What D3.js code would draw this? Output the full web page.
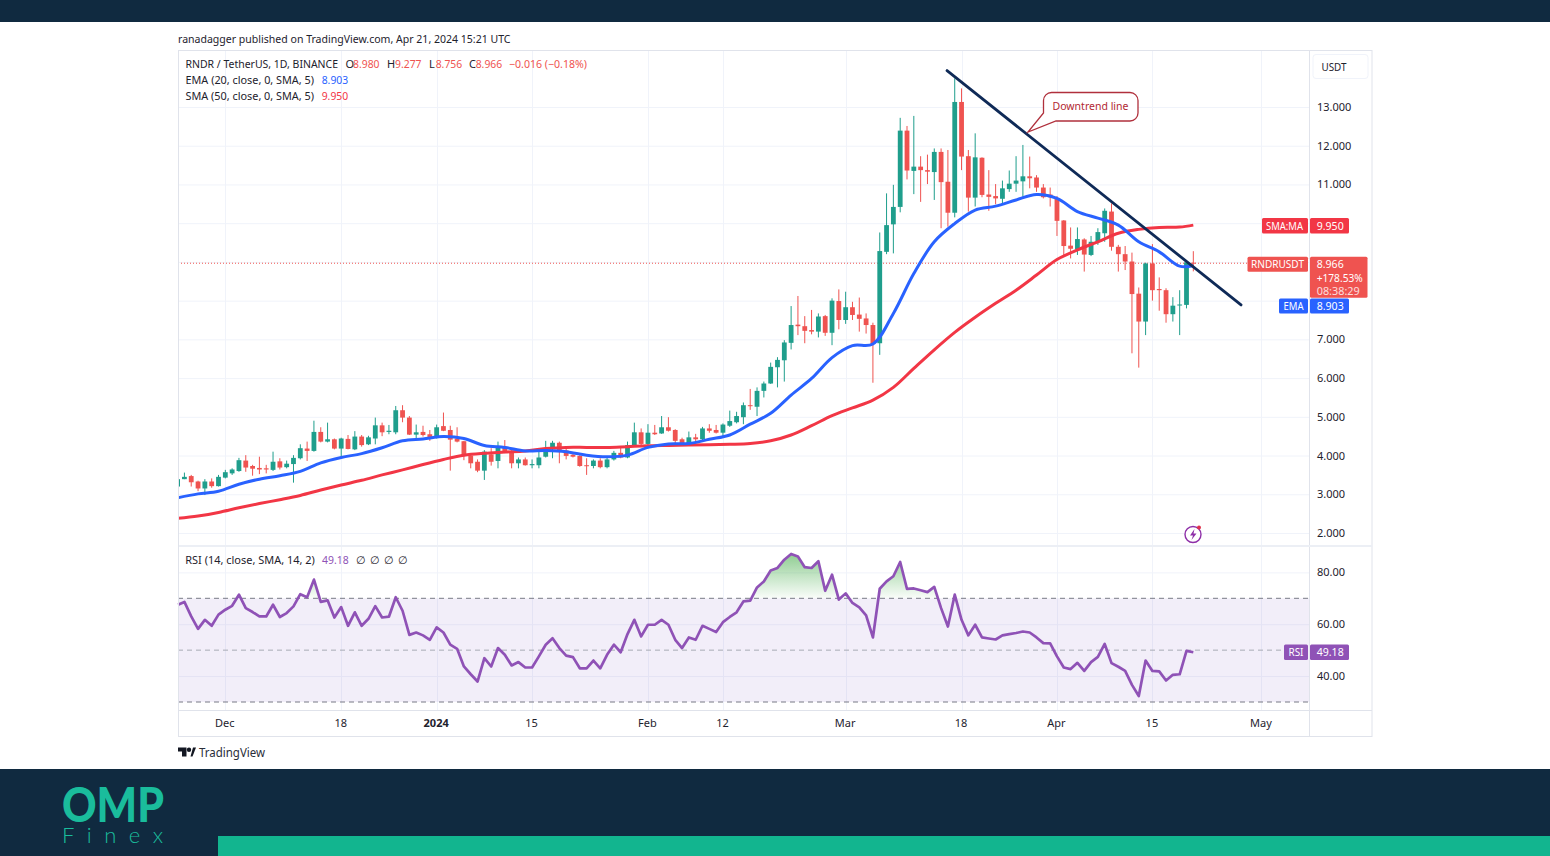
<!DOCTYPE html>
<html><head><meta charset="utf-8">
<script src="https://cdn.jsdelivr.net/npm/d3@7"></script>
<style>html,body{margin:0;padding:0;background:#fff;overflow:hidden}svg{display:block}text{font-family:"Noto Sans",sans-serif}</style>
</head><body><div id="c"></div>
<script>
// Daily candles, 24 Nov 2023 to 21 Apr 2024 (Nov | Dec | Jan | Feb | Mar | Apr)
const opens=[3.20,3.39,3.47,3.33,3.15,3.33,3.21,
3.43,3.54,3.60,3.87,3.73,3.68,3.67,3.63,3.85,3.70,3.78,3.93,4.18,4.12,4.61,4.36,4.42,4.18,4.43,4.16,4.49,4.29,4.44,4.78,4.61,4.60,5.17,4.98,4.54,4.61,4.55,
4.45,4.76,4.66,4.44,4.37,4.00,3.84,3.61,4.03,3.86,4.23,4.10,3.80,3.90,3.75,3.75,3.97,4.18,4.33,4.13,4.02,3.99,3.75,3.73,3.87,3.70,3.90,4.07,3.95,4.27,4.60,
4.30,4.59,4.57,4.73,4.66,4.42,4.25,4.47,4.42,4.70,4.66,4.59,4.77,4.86,4.99,5.30,5.26,5.67,5.86,6.28,6.46,6.91,7.38,7.34,7.24,7.20,7.60,7.17,7.99,
7.50,7.83,7.64,7.54,7.37,6.90,9.26,9.97,10.42,12.39,11.35,11.46,11.37,11.32,11.84,11.07,10.27,13.13,11.73,10.66,11.69,10.74,10.70,10.63,10.88,11.02,11.08,11.21,11.18,10.92,10.74,
10.64,10.07,9.42,9.32,9.58,9.18,9.52,9.74,10.30,9.39,9.20,9.01,8.18,7.46,8.96,8.30,8.27,7.65,7.88,7.89,8.98];
const highs=[3.45,3.56,3.50,3.35,3.39,3.41,3.50,
3.63,3.67,3.94,4.01,3.76,3.97,3.76,4.10,3.93,3.87,4.01,4.29,4.36,4.90,4.73,4.85,4.44,4.46,4.53,4.63,4.53,4.51,4.98,4.85,4.79,5.28,5.30,5.02,4.80,4.77,4.66,
4.80,5.11,4.77,4.73,4.38,4.06,3.90,4.14,4.19,4.36,4.40,4.14,3.95,3.95,3.90,4.14,4.38,4.38,4.36,4.19,4.06,4.01,3.93,3.90,3.93,3.97,4.12,4.23,4.36,4.85,4.70,
4.81,4.79,5.02,4.99,4.68,4.46,4.62,4.56,4.74,4.81,4.79,4.83,5.16,5.13,5.37,5.72,5.76,5.91,6.40,6.54,6.98,7.86,8.12,7.60,7.76,7.67,7.63,8.06,8.29,
8.23,7.97,8.08,7.67,7.43,9.76,10.77,10.99,12.72,12.51,12.77,11.73,11.77,11.93,11.93,11.89,13.74,13.48,11.89,12.32,11.70,11.37,11.01,11.10,11.36,11.73,12.02,11.72,11.24,11.01,10.92,
10.70,10.08,9.89,9.89,9.61,9.67,9.87,10.38,10.51,9.44,9.41,9.24,8.34,8.98,9.46,8.60,8.32,8.09,8.27,9.05,9.277];
const lows=[3.20,3.39,3.20,3.08,2.98,3.17,3.20,
3.41,3.50,3.58,3.58,3.48,3.52,3.54,3.60,3.64,3.67,3.30,3.90,3.86,4.10,4.34,4.34,4.16,3.97,4.16,4.14,4.23,4.27,4.29,4.50,4.55,4.55,4.86,4.53,4.42,4.49,4.38,
4.44,4.63,3.61,4.34,3.88,3.67,3.57,3.37,3.74,3.67,4.06,3.67,3.67,3.74,3.67,3.67,3.95,3.93,3.80,3.90,3.95,3.71,3.50,3.67,3.67,3.67,3.87,3.93,3.93,4.25,4.27,
4.27,4.53,4.56,4.62,4.27,4.25,4.25,4.31,4.40,4.59,4.57,4.49,4.74,4.83,4.81,5.18,5.02,5.50,5.85,5.76,5.91,6.74,7.11,6.90,7.13,7.05,7.09,6.85,7.26,
7.40,7.50,7.20,7.15,5.88,6.60,9.20,9.22,10.28,11.13,10.75,10.55,11.01,10.60,9.87,9.91,10.15,11.37,10.30,10.43,10.67,10.32,10.49,10.51,10.81,10.81,10.68,10.90,10.81,10.64,10.43,
9.67,9.15,9.09,9.18,8.75,9.15,9.44,9.52,9.29,8.75,8.79,6.64,6.27,7.11,8.00,7.74,7.43,7.46,7.11,7.80,8.756];
const closes=[3.39,3.45,3.31,3.15,3.33,3.21,3.45,
3.57,3.64,3.88,3.69,3.66,3.64,3.64,3.84,3.69,3.79,3.94,4.19,4.12,4.61,4.36,4.42,4.18,4.44,4.17,4.49,4.27,4.47,4.78,4.60,4.64,5.17,4.98,4.54,4.60,4.53,4.45,
4.73,4.64,4.41,4.36,4.01,3.80,3.61,4.10,3.84,4.25,4.07,3.80,3.90,3.75,3.78,3.95,4.19,4.33,4.14,3.99,3.97,3.73,3.73,3.87,3.70,3.90,4.07,3.95,4.27,4.60,4.30,
4.59,4.55,4.73,4.64,4.38,4.27,4.47,4.42,4.70,4.64,4.59,4.80,4.89,5.02,5.30,5.28,5.67,5.86,6.29,6.47,6.92,7.37,7.34,7.22,7.20,7.59,7.17,8.00,7.50,
7.83,7.63,7.53,7.37,6.88,9.28,9.95,10.42,12.39,11.36,11.46,11.37,11.33,11.84,11.06,10.27,13.13,11.72,10.66,11.70,10.73,10.68,10.64,10.90,11.02,11.10,11.21,11.16,10.92,10.67,10.67,
10.06,9.41,9.34,9.59,9.19,9.52,9.77,10.32,9.39,9.20,9.01,8.17,7.46,8.96,8.27,8.27,7.65,7.87,7.90,8.99,8.966];
// Moving averages every third session, plus the last one
const maSessions=[0,3,6,9,12,15,18,21,24,27,30,33,36,39,42,45,48,51,54,57,60,63,66,69,72,75,78,81,84,87,90,93,96,99,102,105,108,111,114,117,120,123,126,129,132,135,138,141,144,147,149];
const ema20=[2.91,3.01,3.08,3.26,3.39,3.48,3.59,3.81,3.95,4.05,4.20,4.38,4.43,4.49,4.44,4.26,4.21,4.12,4.13,4.10,4.01,3.97,4.01,4.21,4.30,4.31,4.42,4.53,4.81,5.09,5.56,5.99,6.53,6.84,6.88,7.67,8.70,9.52,9.99,10.34,10.44,10.60,10.74,10.64,10.30,10.13,9.95,9.52,9.26,8.89,8.903];
const sma50=[2.38,2.44,2.53,2.65,2.76,2.86,2.97,3.11,3.24,3.36,3.50,3.63,3.77,3.90,4.01,4.06,4.09,4.12,4.18,4.21,4.21,4.21,4.23,4.25,4.26,4.27,4.28,4.29,4.31,4.38,4.53,4.77,5.03,5.23,5.43,5.76,6.25,6.73,7.18,7.57,7.93,8.27,8.66,9.06,9.31,9.52,9.74,9.84,9.89,9.90,9.95];
const rsi14=[67.5,68.6,63.0,58.2,61.7,59.4,63.7,65.6,67.1,71.4,66.2,64.7,63.0,63.0,67.5,62.8,64.3,66.9,71.6,70.4,77.2,68.6,69.2,62.6,66.6,59.4,64.6,59.4,62.1,67.0,62.6,62.9,70.4,65.2,55.9,56.8,55.7,54.0,58.8,56.8,52.1,50.5,43.7,40.7,37.9,46.9,43.7,50.8,48.2,44.1,45.4,43.3,43.3,47.6,52.1,54.6,50.8,47.9,47.3,43.0,43.0,46.0,43.0,48.2,52.1,49.2,56.2,61.7,55.3,59.8,59.8,61.7,59.8,54.0,50.8,54.9,54.0,
59.4,58.2,57.0,60.8,62.8,64.6,68.8,69.1,74.2,76.5,80.7,81.7,84.9,87.1,86.1,82.0,81.7,84.3,72.9,79.1,69.5,71.9,68.2,66.5,63.4,54.9,73.7,76.5,78.5,84.0,73.6,73.8,73.1,72.4,74.4,66.2,59.1,71.4,61.7,55.7,59.8,54.9,54.5,54.1,55.7,56.2,56.6,57.2,56.8,54.9,52.7,52.6,47.6,43.3,42.7,45.1,42.0,45.4,47.4,52.4,45.0,43.6,42.0,36.6,32.3,46.0,42.0,41.8,38.3,40.5,40.7,49.7,49.18];
const firstSession="2023-11-24";
const priceTicks=[2,3,4,5,6,7,8,9,10,11,12,13];
const priceTickLabels=[2,3,4,5,6,7,11,12,13];
const rsiTicks=[80,60,40];
const rsiBands=[70,50,30];
const dateTicks=["2023-12-01","2023-12-18","2024-01-01","2024-01-15","2024-02-01","2024-02-12","2024-03-01","2024-03-18","2024-04-01","2024-04-15","2024-05-01"];
const dateLabels=["Dec","18","2024","15","Feb","12","Mar","18","Apr","15","May"];
const trendDates=["2024-03-15T21:00Z","2024-04-28T00:00Z"];
const trendPrices=[13.94,7.89];
const lastPrice=8.966, lastEma=8.903, lastSma=9.950, lastRsi=49.18;

const W=1550,H=856,L=178,PR=1309,R=1372,T=50,PB=545,RT=547,RB=710,B=737;
const GREEN="#1f9e8c",RED="#ef5350",BLUE="#2962ff",SMAC="#f23645",PURP="#8f52b6",GRID="#f0f3fa",BORDER="#e0e3eb",TXT="#1e222d",NAVY="#102a40",TEAL="#12b58f";
const parse=s=>new Date(s.length===10?s+"T00:00Z":s);
const start=parse(firstSession);
const dates=opens.map((_,i)=>d3.utcDay.offset(start,i));
const x=d3.scaleUtc().domain([start,parse("2024-05-08")]).range([177.6,1309.2]);
const y=d3.scaleLinear().domain([2,13]).range([533,107]);
const yr=d3.scaleLinear().domain([30,70]).range([702,598.3]);

const svg=d3.select("#c").append("svg").attr("width",W).attr("height",H);
const defs=svg.append("defs");
defs.append("clipPath").attr("id","main").append("rect").attr("x",L).attr("y",T).attr("width",PR-L).attr("height",PB-T);
defs.append("clipPath").attr("id","over").append("rect").attr("x",L).attr("y",RT).attr("width",PR-L).attr("height",yr(70)-RT);
const gr=defs.append("linearGradient").attr("id","ob").attr("x1",0).attr("x2",0)
 .attr("gradientUnits","userSpaceOnUse").attr("y1",yr(87)).attr("y2",yr(70));
gr.append("stop").attr("offset",0).attr("stop-color","#4caf50").attr("stop-opacity",.62);
gr.append("stop").attr("offset",1).attr("stop-color","#4caf50").attr("stop-opacity",.03);

function txt(g,xx,yy,s,o={}){
 const t=g.append("text").attr("x",xx).attr("y",yy).text(s).attr("font-size",o.size||11).attr("fill",o.fill||TXT)
  .attr("text-anchor",o.anchor||"start");
 if(o.weight)t.attr("font-weight",o.weight);
 if(o.len)t.attr("textLength",o.len).attr("lengthAdjust",o.adj||"spacingAndGlyphs");
 if(o.op)t.attr("opacity",o.op);
 if(o.family)t.style("font-family",o.family);
 return t;
}
// page furniture
svg.append("rect").attr("width",W).attr("height",22).attr("fill",NAVY);
svg.append("rect").attr("y",769).attr("width",W).attr("height",87).attr("fill",NAVY);
svg.append("rect").attr("x",218).attr("y",836).attr("width",W-218).attr("height",20).attr("fill",TEAL);
txt(svg,62,822,"OMP",{size:48,weight:900,fill:"#1abc9c",len:102,family:"Lato"});
txt(svg,62,843,"Finex",{size:22,weight:300,fill:"#1abc9c",len:101,adj:"spacing",family:"Lato"});

// grid
const grid=svg.append("g");
grid.selectAll(".h").data(priceTicks).join("line").attr("x1",L).attr("x2",PR).attr("y1",d=>y(d)+.5).attr("y2",d=>y(d)+.5).attr("stroke",GRID);
grid.selectAll(".r").data(rsiTicks).join("line").attr("x1",L).attr("x2",PR).attr("y1",d=>yr(d)+.5).attr("y2",d=>yr(d)+.5).attr("stroke",GRID);
grid.selectAll(".v").data(dateTicks).join("line").attr("x1",d=>Math.round(x(parse(d)))+.5).attr("x2",d=>Math.round(x(parse(d)))+.5).attr("y1",T).attr("y2",RB).attr("stroke",GRID);

// RSI pane
svg.append("rect").attr("x",L).attr("y",yr(70)).attr("width",PR-L).attr("height",yr(30)-yr(70)).attr("fill","#7e57c2").attr("opacity",.1);
svg.append("g").selectAll("line").data(rsiBands).join("line").attr("x1",L).attr("x2",PR).attr("y1",d=>yr(d)).attr("y2",d=>yr(d))
 .attr("stroke",d=>d===50?"#a9abb4":"#787b86").attr("stroke-dasharray","5 4");
const rsiData=rsi14.map((v,i)=>[dates[i],v]);
svg.append("path").attr("clip-path","url(#over)").attr("fill","url(#ob)")
 .attr("d",d3.area().x(d=>x(d[0])).y0(yr(70)).y1(d=>yr(d[1]))(rsiData));
svg.append("path").attr("fill","none").attr("stroke",PURP).attr("stroke-width",2.7).attr("stroke-linejoin","round")
 .attr("d",d3.line().x(d=>Math.max(L,x(d[0]))).y(d=>yr(d[1]))(rsiData));

// last price dotted line
svg.append("line").attr("x1",L).attr("x2",PR).attr("y1",y(lastPrice)).attr("y2",y(lastPrice)).attr("stroke",RED).attr("stroke-dasharray","1 2");

// candles
const main=svg.append("g").attr("clip-path","url(#main)");
const cs=main.selectAll("g.c").data(dates).join("g").attr("class","c");
const col=i=>closes[i]>=opens[i]?GREEN:RED;
cs.append("line").attr("x1",d=>x(d)).attr("x2",d=>x(d)).attr("y1",(d,i)=>y(highs[i])).attr("y2",(d,i)=>y(lows[i])).attr("stroke",(d,i)=>col(i)).attr("stroke-width",1);
cs.append("rect").attr("x",d=>x(d)-2.4).attr("width",4.8).attr("y",(d,i)=>y(Math.max(opens[i],closes[i])))
 .attr("height",(d,i)=>Math.max(1,Math.abs(y(opens[i])-y(closes[i])))).attr("fill",(d,i)=>col(i));

// moving averages
const maLine=d3.line().x(d=>x(d[0])).y(d=>y(d[1])).curve(d3.curveCatmullRom);
const maPts=a=>a.map((v,i)=>[dates[maSessions[i]],v]);
main.append("path").attr("fill","none").attr("stroke",SMAC).attr("stroke-width",3).attr("d",maLine(maPts(sma50)));
main.append("path").attr("fill","none").attr("stroke",BLUE).attr("stroke-width",3).attr("d",maLine(maPts(ema20)));

// trend line and callout
svg.append("line").attr("x1",x(parse(trendDates[0]))).attr("x2",x(parse(trendDates[1]))).attr("y1",y(trendPrices[0])).attr("y2",y(trendPrices[1]))
 .attr("stroke","#0f2a57").attr("stroke-width",2.8).attr("stroke-linecap","round");
svg.append("path").attr("fill","#fff").attr("stroke","#b0303c").attr("stroke-width",1.3)
 .attr("d","M1051.5,92.5H1130a8,8 0 0 1 8,8V113a8,8 0 0 1 -8,8H1056L1028,132L1043.5,113V100.5a8,8 0 0 1 8,-8Z");
txt(svg,1090.5,109.5,"Downtrend line",{fill:"#b22833",anchor:"middle",len:76});

// lightning badge
const bolt=svg.append("g");
bolt.append("circle").attr("cx",1193).attr("cy",534.5).attr("r",8).attr("fill","#fff").attr("stroke","#8e2fa8").attr("stroke-width",1.4);
bolt.append("path").attr("d","M1194.5,529L1190,535.5H1193L1191.5,540L1196.5,533.5H1193.5Z").attr("fill","#8e2fa8");
bolt.append("circle").attr("cx",1199).attr("cy",527.5).attr("r",2).attr("fill","#e0314b");

// frame
const fr=svg.append("g").attr("fill","none").attr("stroke",BORDER);
fr.append("rect").attr("x",L+.5).attr("y",T+.5).attr("width",R-L-.5).attr("height",B-T-1);
fr.append("line").attr("x1",PR+.5).attr("x2",PR+.5).attr("y1",T).attr("y2",B);
fr.append("line").attr("x1",L).attr("x2",R).attr("y1",RB+.5).attr("y2",RB+.5);
svg.append("rect").attr("x",L+1).attr("y",PB).attr("width",R-L-1).attr("height",2).attr("fill","#eceff5");

// axes
const axP=svg.append("g").attr("transform",`translate(${PR},0)`).call(d3.axisRight(y).tickValues(priceTickLabels).tickSize(0).tickPadding(8).tickFormat(d3.format(".3f")));
const axR=svg.append("g").attr("transform",`translate(${PR},0)`).call(d3.axisRight(yr).tickValues(rsiTicks).tickSize(0).tickPadding(8).tickFormat(d3.format(".2f")));
const axX=svg.append("g").attr("transform",`translate(-1,${RB+1})`).call(d3.axisBottom(x).tickValues(dateTicks.map(parse)).tickSize(0).tickPadding(8).tickFormat((d,i)=>dateLabels[i]));
[axP,axR,axX].forEach(a=>{a.select(".domain").remove();a.selectAll("text").attr("font-size",11).attr("fill",TXT).style("font-family",'"Noto Sans",sans-serif');});
axX.selectAll("text").filter((d,i)=>dateLabels[i]==="2024").attr("font-weight",700);

// price scale button
svg.append("rect").attr("x",1313).attr("y",54.5).attr("width",55).attr("height",24).attr("rx",3).attr("fill","#fff").attr("stroke",GRID);
txt(svg,1321.5,70.7,"USDT",{len:25});

// tags
function tag(xx,yy,w,h,fill){svg.append("rect").attr("x",xx).attr("y",yy).attr("width",w).attr("height",h).attr("rx",1.5).attr("fill",fill);}
tag(1262,218,46,15.5,SMAC);tag(1310,218,39,15.5,SMAC);
txt(svg,1284.5,229.5,"SMA:MA",{fill:"#fff",anchor:"middle",len:37});
txt(svg,1316.7,229.5,d3.format(".3f")(lastSma),{fill:"#fff",len:27});
tag(1247.5,256.7,60.5,15,RED);tag(1310,256.7,57.5,41,RED);
txt(svg,1277.5,268,"RNDRUSDT",{fill:"#fff",anchor:"middle",len:53});
txt(svg,1316.7,268,d3.format(".3f")(lastPrice),{fill:"#fff",len:27});
txt(svg,1316.7,281.7,"+178.53%",{fill:"#fff",len:46});
txt(svg,1316.7,295,"08:38:29",{fill:"#fff",len:43,op:.8});
tag(1279,298.5,29,15,BLUE);tag(1310,298.5,39,15,BLUE);
txt(svg,1293.5,310,"EMA",{fill:"#fff",anchor:"middle",len:20});
txt(svg,1316.7,310,d3.format(".3f")(lastEma),{fill:"#fff",len:27});
tag(1284,644.5,24,15.5,PURP);tag(1310,644.5,39,15.5,PURP);
txt(svg,1296,656,"RSI",{fill:"#fff",anchor:"middle",len:15});
txt(svg,1316.7,656,d3.format(".2f")(lastRsi),{fill:"#fff",len:27});

// header and legends
txt(svg,178,43,"ranadagger published on TradingView.com, Apr 21, 2024 15:21 UTC",{size:11,len:332.5});
txt(svg,185.5,67.5,"RNDR / TetherUS, 1D, BINANCE",{len:152.5});
const leg=[[345.5,"O"],[387,"H"],[429,"L"],[469,"C"]];leg.forEach(d=>txt(svg,d[0],67.5,d[1]));
[[353,"8.980"],[395,"9.277"],[435.7,"8.756"],[475.7,"8.966"]].forEach(d=>txt(svg,d[0],67.5,d[1],{fill:RED,len:26.5}));
txt(svg,509,67.5,"−0.016 (−0.18%)",{fill:RED,len:78});
txt(svg,185.5,83.5,"EMA (20, close, 0, SMA, 5)",{len:128.5});
txt(svg,321.7,83.5,"8.903",{fill:BLUE,len:26.5});
txt(svg,185.5,99.5,"SMA (50, close, 0, SMA, 5)",{len:128.5});
txt(svg,321.7,99.5,"9.950",{fill:SMAC,len:26.5});
txt(svg,185.3,564,"RSI (14, close, SMA, 14, 2)",{len:129.5});
txt(svg,322,564,"49.18",{fill:PURP,len:26.7});
[355.5,369.5,383.5,397.7].forEach(xx=>txt(svg,xx,564,"∅"));

// TradingView mark
const tv=svg.append("g").attr("fill","#131722");
tv.append("path").attr("d","M178,747.5H186.5V756.5H182V751.5H178Z");
tv.append("circle").attr("cx",189).attr("cy",749.8).attr("r",2.2);
tv.append("path").attr("d","M190.5,756.5L193,747.5H196L192.5,756.5Z");
txt(svg,199,757,"TradingView",{size:12,len:66,fill:"#2a2e39"});
</script></body></html>
